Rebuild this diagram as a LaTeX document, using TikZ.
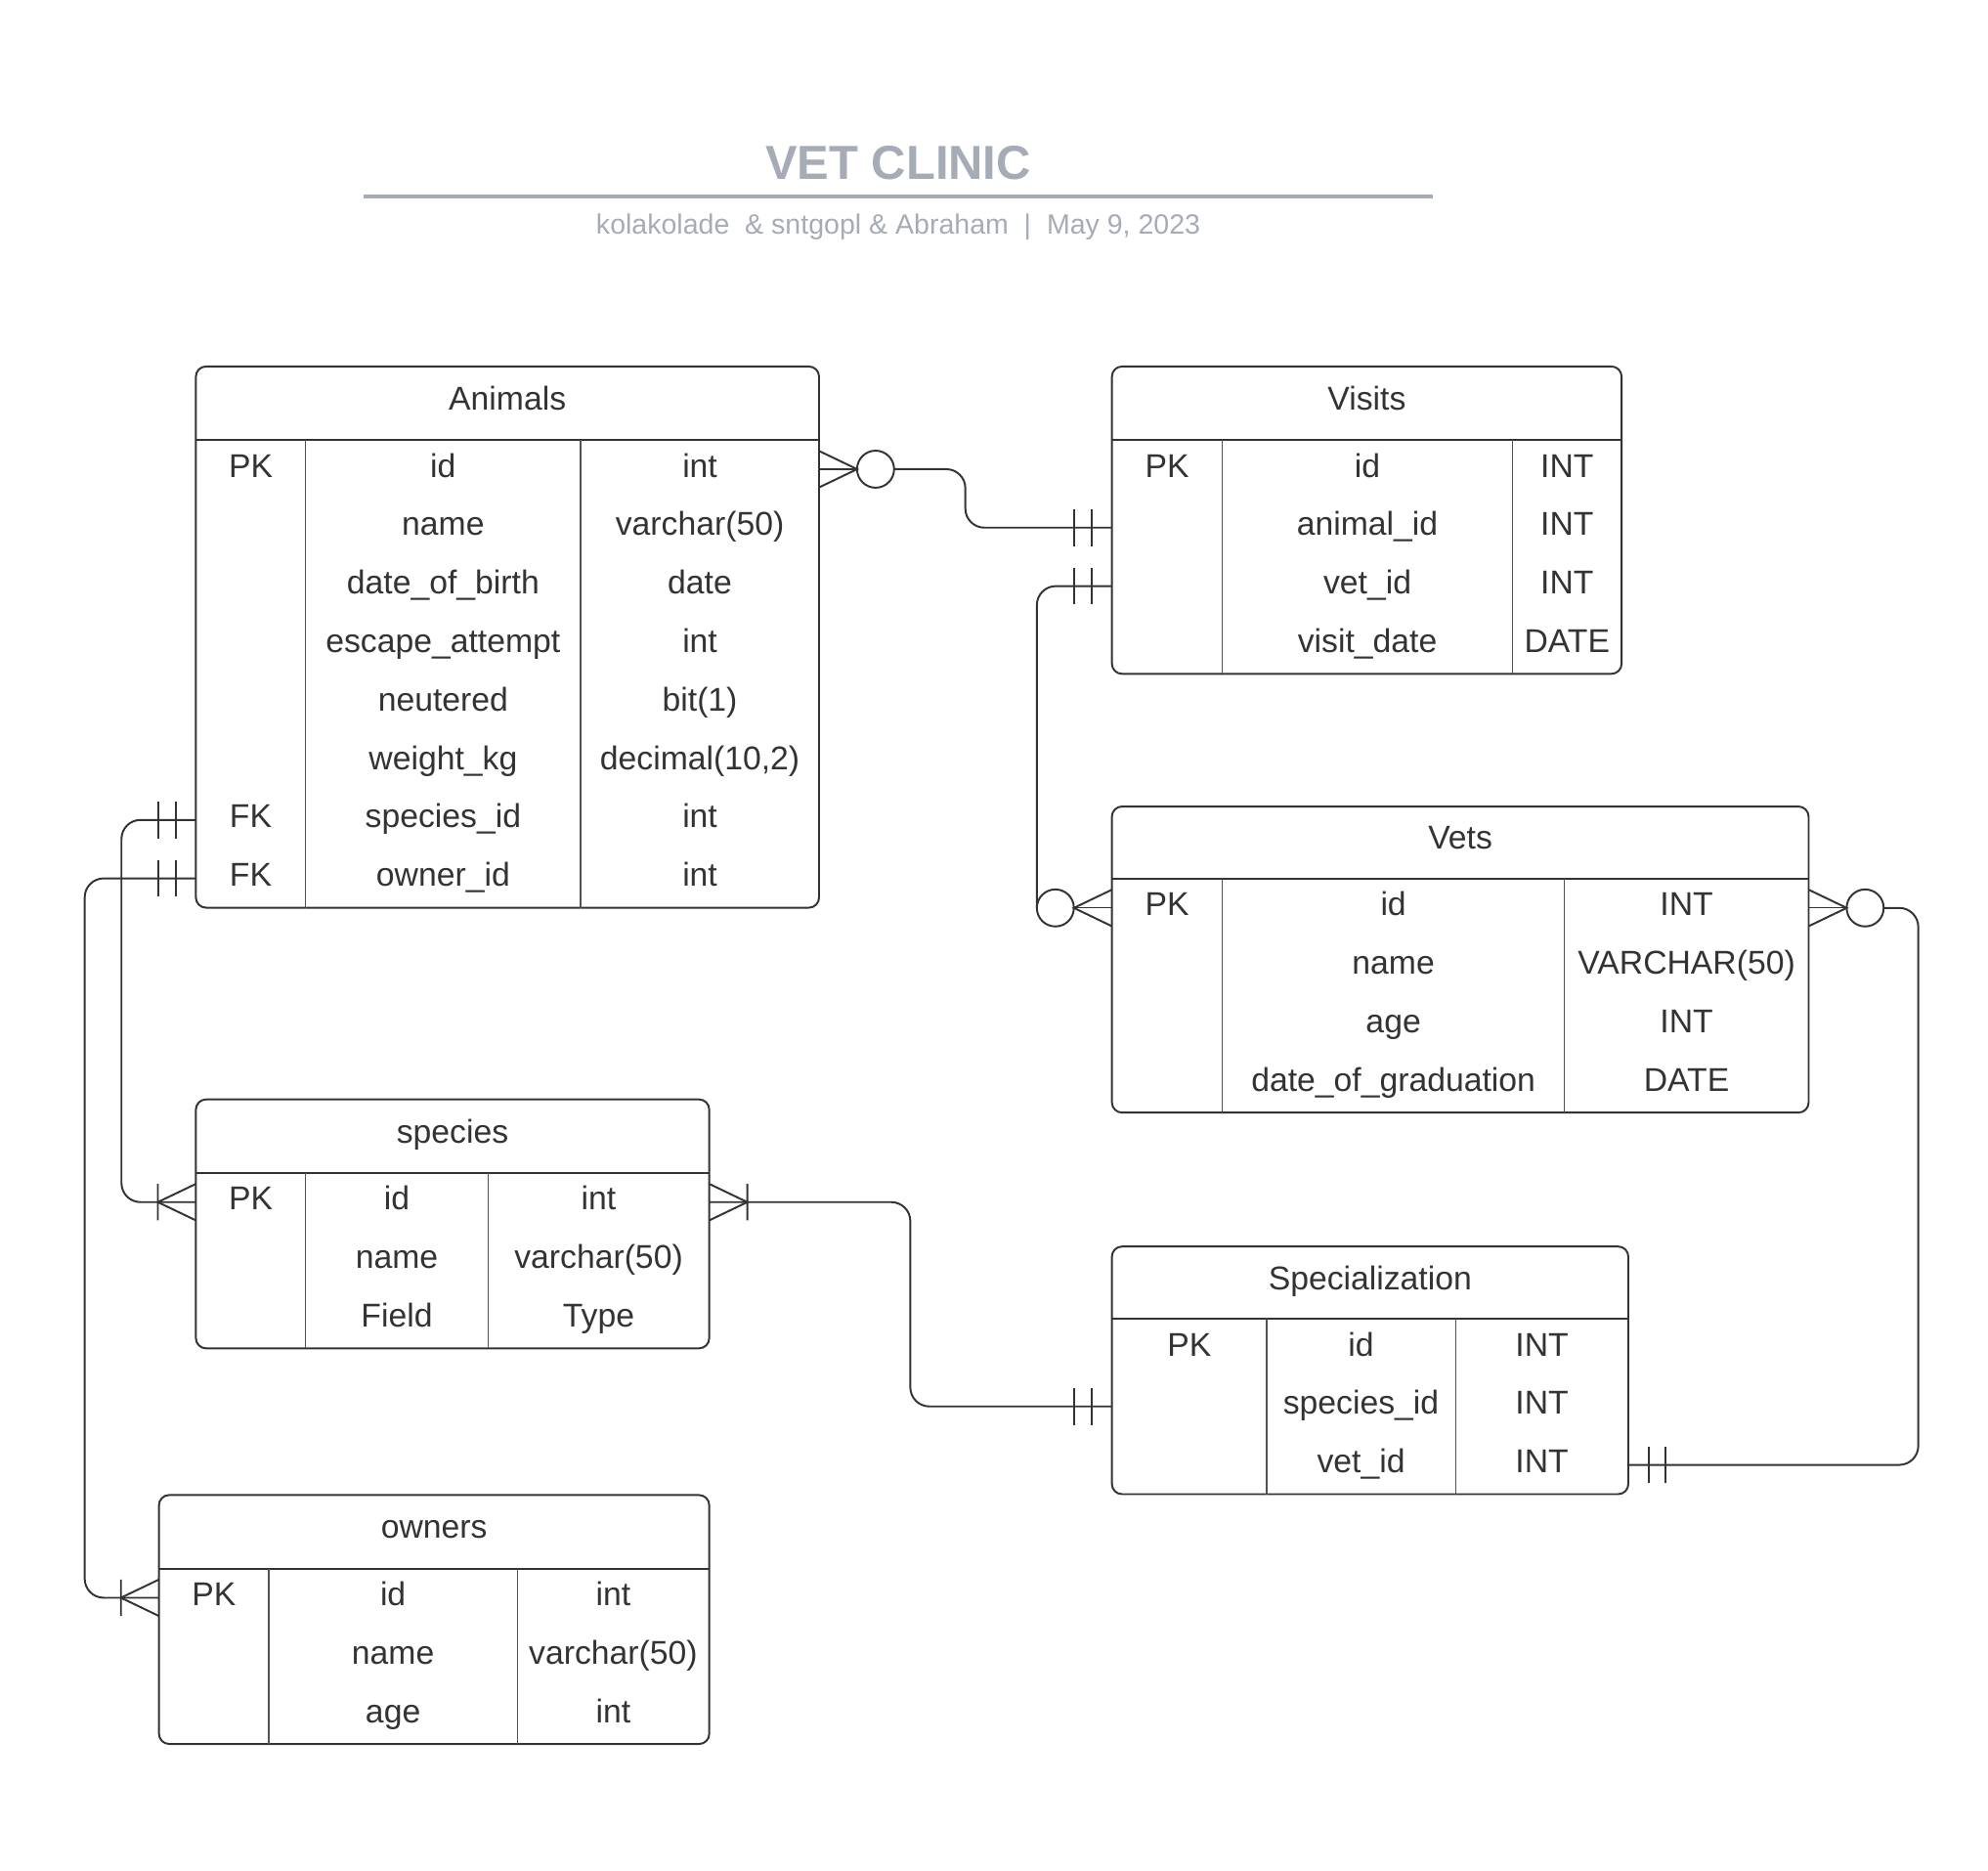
\documentclass[tikz,border=0pt]{standalone}
\usepackage{fontspec}
\setmainfont{Liberation Sans}
\usetikzlibrary{calc}

\definecolor{ink}{RGB}{51,51,51}
\definecolor{titlegray}{RGB}{166,172,182}

\tikzset{
  x=1pt, y=-1pt,
  tbox/.style={draw=ink, line width=1.5pt, rounded corners=8pt, rectangle, inner sep=0pt, outer sep=0pt},
  hline/.style={draw=ink, line width=1.5pt},
  cline/.style={draw=ink!85, line width=1pt},
  cell/.style={font=\fontsize{26}{30}\selectfont, text=ink, inner sep=0pt, anchor=base},
  conn/.style={draw=ink, line width=1.5pt, rounded corners=15pt},
  erline/.style={draw=ink, line width=1.5pt},
  thinline/.style={draw=ink, line width=1pt},
}

% table: name, title, x0, x1, x2, x3, top, header line, bottom
\newcommand\ertable[9]{%
  \node[tbox, anchor=north west, minimum width={(#6-#3)*1pt}, minimum height={(#9-#7)*1pt}] (#1) at (#3,#7) {};
  \draw[hline] (#3,#8) -- (#6,#8);
  \draw[cline] (#4,#8) -- (#4,#9);
  \draw[cline] (#5,#8) -- (#5,#9);
  \node[cell] (#1-title) at ({(#3+#6)/2},{(#7+#8)/2+5.3}) {#2};
  \def\ca{#3}\def\cb{#4}\def\cc{#5}\def\cd{#6}\def\hy{#8}\def\tn{#1}%
}

% row: index, row id, key, field, type
\newcommand\errow[5]{%
  \pgfmathsetmacro\ry{\hy+23+46.1*#1}%
  \coordinate (\tn-#2-L) at (\ca,\ry);
  \coordinate (\tn-#2-R) at (\cd,\ry);
  \if\relax\detokenize{#3}\relax\else
    \node[cell] (\tn-#2-key) at ({(\ca+\cb)/2},\ry+6.3) {#3};\fi
  \node[cell] (\tn-#2-field) at ({(\cb+\cc)/2},\ry+6.3) {#4};
  \node[cell] (\tn-#2-type) at ({(\cc+\cd)/2},\ry+6.3) {#5};
}

% relationship ends: coordinate on the border, direction (1 = right, -1 = left)
\newcommand\oneonly[2]{%
  \begin{scope}[shift={(#1)}, xscale=#2]
    \draw[erline] (16,-14.5) -- (16,14.5) (29.5,-14.5) -- (29.5,14.5);
  \end{scope}}
\newcommand\zeromany[2]{%
  \begin{scope}[shift={(#1)}, xscale=#2]
    \draw[erline] (0,-14.4) -- (30,0) -- (0,14.4);
    \draw[thinline] (0,0) -- (30,0);
    \draw[erline] (44.6,0) circle[radius=14.6];
  \end{scope}}
\newcommand\onemany[2]{%
  \begin{scope}[shift={(#1)}, xscale=#2]
    \draw[erline] (0,-14.4) -- (30,0) -- (0,14.4) (30,-14.4) -- (30,14.4);
  \end{scope}}

\begin{document}
\begin{tikzpicture}
\fill[white] (0,0) rectangle (1568,1475);
\useasboundingbox (0,0) rectangle (1568,1475);

% heading
\node[anchor=base, inner sep=0pt, text=titlegray, font=\fontsize{37.7}{40}\selectfont\bfseries] (heading) at (708.5,141.3) {VET CLINIC};
\draw[titlegray, line width=2.6pt] (287,155) -- (1130,155);
\node[anchor=base, inner sep=0pt, text=titlegray, font=\fontsize{22}{26}\selectfont] (byline) at (708.5,184.9)
  {kolakolade\ \ \& sntgopl \& Abraham\ \ |\ \ May 9, 2023};

% Animals
\ertable{animals}{Animals}{154.5}{241}{458}{646}{289}{347}{715.8}
\errow{0}{id}{PK}{id}{int}
\errow{1}{name}{}{name}{varchar(50)}
\errow{2}{dob}{}{date\_of\_birth}{date}
\errow{3}{escape}{}{escape\_attempt}{int}
\errow{4}{neutered}{}{neutered}{bit(1)}
\errow{5}{weight}{}{weight\_kg}{decimal(10,2)}
\errow{6}{speciesid}{FK}{species\_id}{int}
\errow{7}{ownerid}{FK}{owner\_id}{int}

% Visits
\ertable{visits}{Visits}{877}{964}{1193}{1279}{289}{347}{531.4}
\errow{0}{id}{PK}{id}{INT}
\errow{1}{animalid}{}{animal\_id}{INT}
\errow{2}{vetid}{}{vet\_id}{INT}
\errow{3}{visitdate}{}{visit\_date}{DATE}

% Vets
\ertable{vets}{Vets}{877}{964}{1234}{1426.5}{636}{693}{877.4}
\errow{0}{id}{PK}{id}{INT}
\errow{1}{name}{}{name}{VARCHAR(50)}
\errow{2}{age}{}{age}{INT}
\errow{3}{grad}{}{date\_of\_graduation}{DATE}

% species
\ertable{species}{species}{154.5}{241}{385}{559.4}{867}{925}{1063.3}
\errow{0}{id}{PK}{id}{int}
\errow{1}{name}{}{name}{varchar(50)}
\errow{2}{field}{}{Field}{Type}

% Specialization
\ertable{spec}{Specialization}{877}{999}{1148}{1284.3}{983}{1040}{1178.3}
\errow{0}{id}{PK}{id}{INT}
\errow{1}{speciesid}{}{species\_id}{INT}
\errow{2}{vetid}{}{vet\_id}{INT}

% owners
\ertable{owners}{owners}{125.4}{212}{408}{559.4}{1179}{1237}{1375.3}
\errow{0}{id}{PK}{id}{int}
\errow{1}{name}{}{name}{varchar(50)}
\errow{2}{age}{}{age}{int}

% routing columns for the connectors
\coordinate (busA) at (761.4,0);
\coordinate (busB) at (817.8,0);
\coordinate (busC) at (1513,0);
\coordinate (busD) at (95.8,0);
\coordinate (busE) at (66.8,0);
\coordinate (busF) at (718,0);

% Animals 0..n -- 1 Visits
\zeromany{animals-id-R}{1}
\oneonly{visits-animalid-L}{-1}
\draw[conn] ($(animals-id-R)+(59.2,0)$) -- (animals-id-R -| busA) -- (visits-animalid-L -| busA) -- (visits-animalid-L);

% Visits 1 -- 0..n Vets
\oneonly{visits-vetid-L}{-1}
\zeromany{vets-id-L}{-1}
\draw[conn] (visits-vetid-L) -- (visits-vetid-L -| busB) -- (vets-id-L -| busB);

% Vets 0..n -- 1 Specialization
\zeromany{vets-id-R}{1}
\oneonly{spec-vetid-R}{1}
\draw[conn] ($(vets-id-R)+(59.2,0)$) -- (vets-id-R -| busC) -- (spec-vetid-R -| busC) -- (spec-vetid-R);

% Animals 1 -- 1..n species
\oneonly{animals-speciesid-L}{-1}
\onemany{species-id-L}{-1}
\draw[conn] (animals-speciesid-L) -- (animals-speciesid-L -| busD) -- (species-id-L -| busD) -- (species-id-L);

% Animals 1 -- 1..n owners
\oneonly{animals-ownerid-L}{-1}
\onemany{owners-id-L}{-1}
\draw[conn] (animals-ownerid-L) -- (animals-ownerid-L -| busE) -- (owners-id-L -| busE) -- (owners-id-L);

% species 1..n -- 1 Specialization
\onemany{species-id-R}{1}
\oneonly{spec-speciesid-L}{-1}
\draw[conn] (species-id-R) -- (species-id-R -| busF) -- (spec-speciesid-L -| busF) -- (spec-speciesid-L);
\end{tikzpicture}
\end{document}
